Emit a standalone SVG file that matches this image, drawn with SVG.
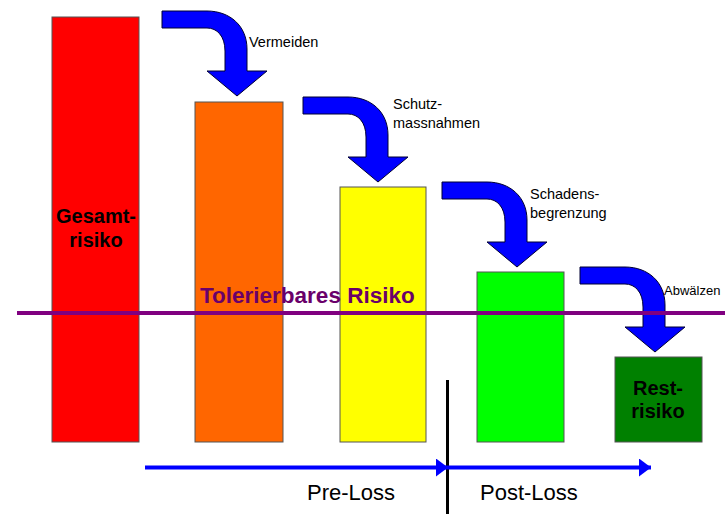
<svg xmlns="http://www.w3.org/2000/svg" width="725" height="514" viewBox="0 0 725 514">
<defs>
<style>
.bar{stroke:#555;stroke-width:1}
.step{font-family:"Liberation Sans",Arial,sans-serif;font-size:14.5px;fill:#000}
.big{font-family:"Liberation Sans",Arial,sans-serif;font-size:20px;font-weight:bold;fill:#000;text-anchor:middle}
.phase{font-family:"Liberation Sans",Arial,sans-serif;font-size:22px;fill:#000}
.curve{fill:#0000ff;stroke:#000033;stroke-width:1}
</style>
<path id="carr" d="M0,0 L45,0 C68,0 85,15 85,38 L85,60 L105,60 L75,85 L45,60 L63,60 L63,40 C63,25 55,17 45,17 L0,17 Z"/>
<marker id="ah" viewBox="0 0 12 18" refX="12" refY="9" markerWidth="12" markerHeight="18" orient="auto" markerUnits="userSpaceOnUse"><path d="M0,0 L12,9 L0,18 Z" fill="#0000ff"/></marker>
</defs>
<rect width="725" height="514" fill="#fff"/>
<g id="bar-gesamt"><rect class="bar" x="52" y="17" width="87" height="425" fill="#ff0000"/><text class="big" x="96" y="223">Gesamt-</text><text class="big" x="96" y="247">risiko</text></g>
<g id="bar-orange"><rect class="bar" x="195" y="102" width="88" height="340" fill="#ff6600"/></g>
<g id="bar-yellow"><rect class="bar" x="340" y="187" width="86" height="255" fill="#ffff00"/></g>
<g id="bar-green"><rect class="bar" x="477" y="272" width="87" height="170" fill="#00ff00"/></g>
<g id="bar-rest"><rect class="bar" x="615" y="357" width="87" height="85" fill="#008000"/><text class="big" x="658" y="395">Rest-</text><text class="big" x="658" y="418">risiko</text></g>
<g id="step-vermeiden"><use href="#carr" class="curve" x="162" y="11"/><text class="step" x="249" y="47">Vermeiden</text></g>
<g id="step-schutz"><use href="#carr" class="curve" x="303" y="97"/><text class="step" x="393" y="109">Schutz-</text><text class="step" x="393" y="128">massnahmen</text></g>
<g id="step-schaden"><use href="#carr" class="curve" x="442" y="182"/><text class="step" x="530" y="199">Schadens-</text><text class="step" x="530" y="218">begrenzung</text></g>
<g id="step-abwaelzen"><use href="#carr" class="curve" x="580" y="267"/><text class="step" x="664" y="295" style="font-size:13px">Abwälzen</text></g>
<g id="tolerable"><line x1="17" y1="313" x2="725" y2="313" stroke="#800080" stroke-width="4"/><text x="200" y="303" font-family="Liberation Sans,Arial,sans-serif" font-size="22.5" font-weight="bold" fill="#6a006a">Tolerierbares Risiko</text></g>
<g id="connectors">
<line x1="447.5" y1="380" x2="447.5" y2="514" stroke="#000" stroke-width="3"/>
<line x1="145" y1="467.5" x2="448" y2="467.5" stroke="#0000ff" stroke-width="4" marker-end="url(#ah)"/>
<line x1="448" y1="467.5" x2="651" y2="467.5" stroke="#0000ff" stroke-width="4" marker-end="url(#ah)"/>
</g>
<text class="phase" x="307" y="500">Pre-Loss</text>
<text class="phase" x="480" y="500">Post-Loss</text>
</svg>
